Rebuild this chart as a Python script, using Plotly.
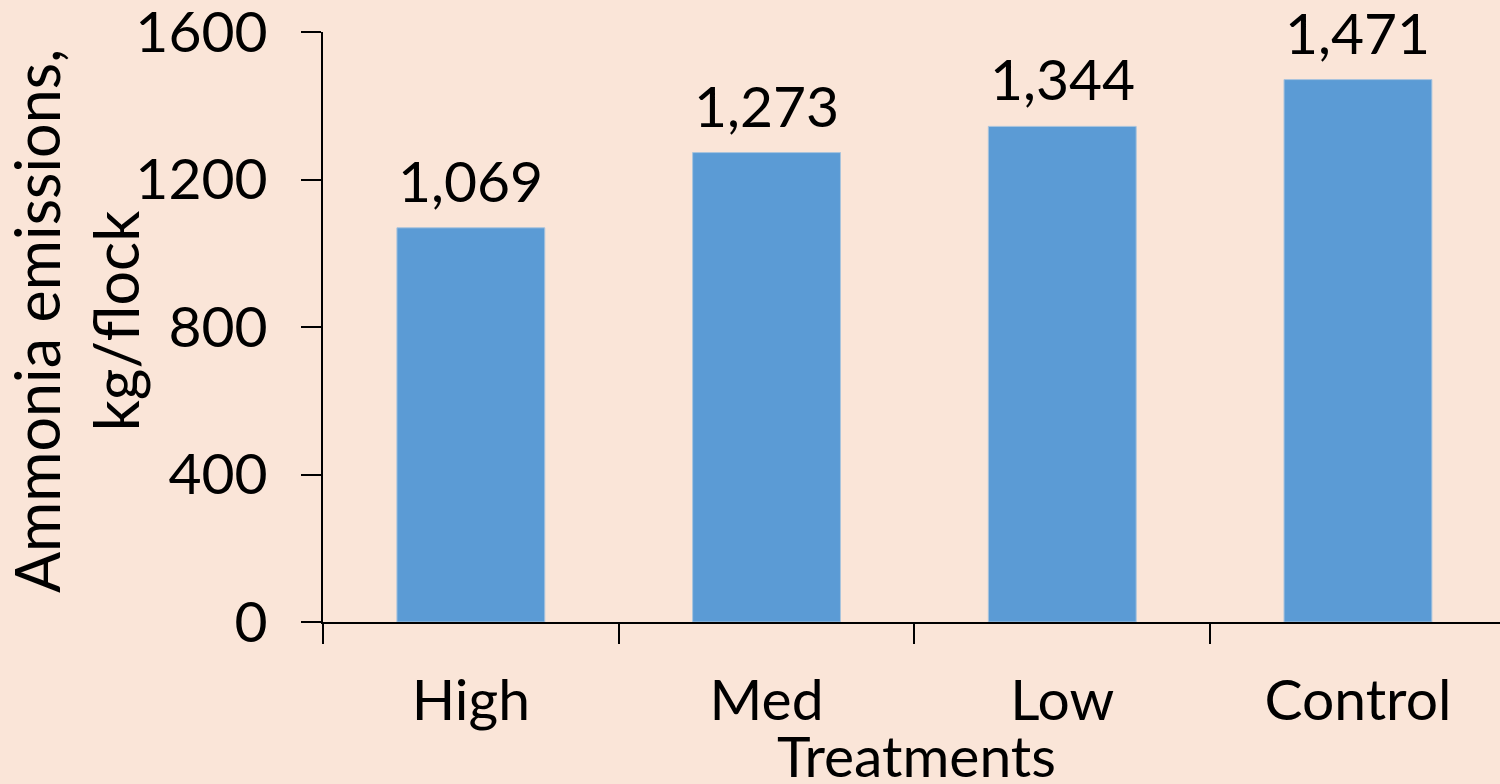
import plotly.graph_objects as go

treatments = ["High", "Med", "Low", "Control"]
emissions = [1069, 1273, 1344, 1471]
y_ticks = [0, 400, 800, 1200, 1600]

FONT = "Lato"
BG = "#FAE5D8"
BAR = "#5B9BD5"
SIZE = 57

fig = go.Figure()
fig.add_trace(go.Bar(
    x=treatments,
    y=emissions,
    marker=dict(color=BAR, line=dict(color="#A9C4DD", width=1)),
    width=0.5,
    hoverinfo="skip",
))

# value labels above each bar
for t, v in zip(treatments, emissions):
    fig.add_annotation(
        x=t, y=v, xref="x", yref="y",
        text=f"{v:,}", showarrow=False,
        yanchor="bottom", yshift=12,
        font=dict(family=FONT, size=SIZE, color="black"),
    )

# axis titles
fig.add_annotation(
    xref="paper", yref="paper", x=(76 - 323) / 1177, y=0.51,
    text="Ammonia emissions,<br>kg/flock", textangle=-90, showarrow=False,
    xanchor="center", yanchor="middle",
    font=dict(family=FONT, size=61, color="black"),
)
fig.add_annotation(
    xref="paper", yref="paper", x=(916 - 323) / 1177, y=-97 / 590,
    text="Treatments", showarrow=False,
    xanchor="center", yanchor="top",
    font=dict(family=FONT, size=SIZE, color="black"),
)

fig.update_layout(
    width=1500, height=784,
    margin=dict(l=323, r=0, t=32, b=162, autoexpand=False),
    paper_bgcolor=BG, plot_bgcolor=BG,
    showlegend=False,
    font=dict(family=FONT, size=SIZE, color="black"),
)
fig.update_xaxes(
    type="category", range=[-0.5, -0.5 + 1177 / 295.7],
    showline=True, linecolor="black", linewidth=2,
    ticks="outside", ticklen=20, tickwidth=2, tickcolor="black",
    tickson="boundaries", showgrid=False, zeroline=False,
    ticklabelstandoff=28, automargin=False,
    tickfont=dict(family=FONT, size=SIZE, color="black"),
)
fig.update_yaxes(
    range=[0, 1600], tickvals=y_ticks, ticktext=[str(v) for v in y_ticks],
    showline=True, linecolor="black", linewidth=2,
    ticks="outside", ticklen=20, tickwidth=2, tickcolor="black",
    showgrid=False, zeroline=False, automargin=False,
    ticklabelstandoff=22, ticklabeloverflow="allow",
    tickfont=dict(family=FONT, size=SIZE, color="black"),
)

fig.write_html("out.html")
